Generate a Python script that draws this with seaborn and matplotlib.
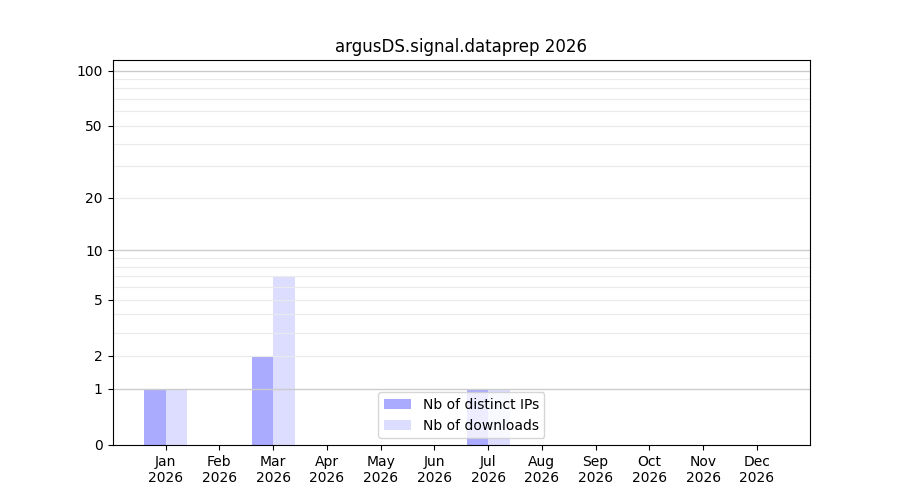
import numpy as np
import pandas as pd
import matplotlib
matplotlib.use("Agg")
import matplotlib.pyplot as plt
import seaborn as sns

# Monatsdaten
months = ["Jan", "Feb", "Mar", "Apr", "May", "Jun",
          "Jul", "Aug", "Sep", "Oct", "Nov", "Dec"]
year = "2026"
distinct_ips = [1, 0, 2, 0, 0, 0, 1, 0, 0, 0, 0, 0]
downloads = [1, 0, 7, 0, 0, 0, 1, 0, 0, 0, 0, 0]
series_labels = ["Nb of distinct IPs", "Nb of downloads"]

y_ticks = [0, 1, 2, 5, 10, 20, 50, 100]
major_grid = [1, 10, 100]
minor_grid = [2, 3, 4, 5, 6, 7, 8, 9, 20, 30, 40, 50, 60, 70, 80, 90]

df = pd.DataFrame({
    "month": months * 2,
    "value": distinct_ips + downloads,
    "series": [series_labels[0]] * len(months) + [series_labels[1]] * len(months),
})

fig, ax = plt.subplots(figsize=(9, 5), dpi=100)
sns.barplot(
    data=df, x="month", y="value", hue="series",
    palette=["#aaaaff", "#ddddff"], saturation=1, linewidth=0,
    width=0.8, ax=ax,
)

ax.set_yscale("function", functions=(lambda y: np.log10(np.clip(y, 0, None) + 1),
                                     lambda y: 10 ** y - 1))
ax.set_ylim(0, 114)
ax.set_xlim(-0.99, 11.99)
ax.set_yticks(y_ticks)
ax.set_yticklabels([str(t) for t in y_ticks])
ax.yaxis.set_minor_locator(matplotlib.ticker.NullLocator())
ax.set_xticks(range(len(months)))
ax.set_xticklabels([f"{m}\n{year}" for m in months])

for v in minor_grid:
    ax.axhline(v, color="#ebebeb", linewidth=0.8)
for v in major_grid:
    ax.axhline(v, color="#cccccc", linewidth=1.0)

ax.set_xlabel("")
ax.set_ylabel("")
ax.set_title(f"argusDS.signal.dataprep {year}")
sns.move_legend(ax, "lower center", title=None)

fig.savefig("out.png")
